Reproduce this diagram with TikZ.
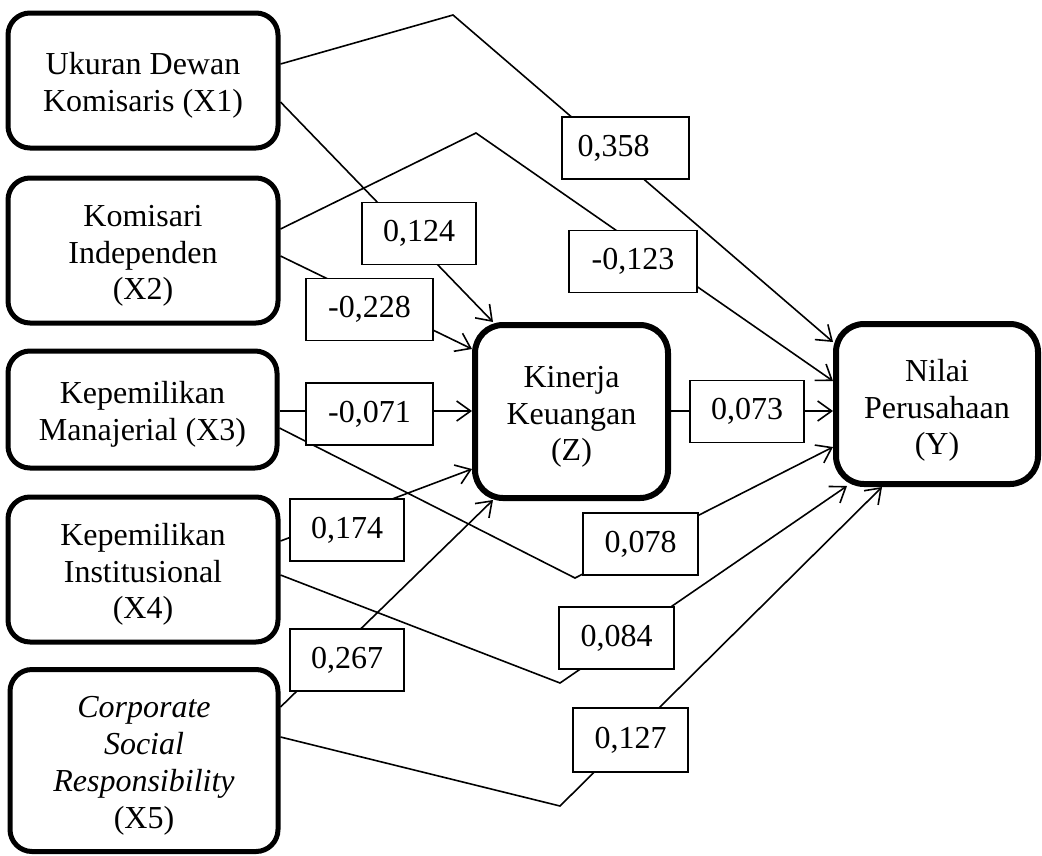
\documentclass[tikz,border=0pt]{standalone}
\usepackage{fontspec}
\setmainfont{Liberation Serif}
\usetikzlibrary{arrows.meta}
\newcommand{\topstrut}[1][32pt]{\rule{0pt}{#1}}
\begin{document}
\begin{tikzpicture}[x=1pt,y=-1pt,
  txt/.style={font=\fontsize{32}{36.8}\selectfont},
  var/.style={txt, draw, line width=5pt, rounded corners=22pt, align=center, inner sep=0pt},
  big/.style={line width=6pt, rounded corners=28pt},
  coef/.style={txt, draw, line width=1.8pt, fill=white, inner sep=0pt, minimum height=62pt},
  conn/.style={line width=1.6pt},
  arr/.style={conn, -{Straight Barb[length=14pt,width=20pt,line width=1.6pt]}}
]
\useasboundingbox (0,0) rectangle (1042,855);
\fill[white] (0,0) rectangle (1042,855);

% variable boxes
\node[var, minimum width=270pt, minimum height=135pt] (X1) at (143,80.5) {\topstrut Ukuran Dewan\\Komisaris (X1)};
\node[var, minimum width=270pt, minimum height=145pt] (X2) at (143,250.5) {\topstrut Komisari\\Independen\\(X2)};
\node[var, minimum width=269pt, minimum height=117pt] (X3) at (142.5,409.5) {\topstrut Kepemilikan\\Manajerial (X3)};
\node[var, minimum width=270pt, minimum height=145pt] (X4) at (143,569.5) {\topstrut Kepemilikan\\Institusional\\(X4)};
\node[var, minimum width=268pt, minimum height=182pt] (X5) at (144,760.5) {\topstrut\textit{Corporate}\\\textit{Social}\\\textit{Responsibility}\\(X5)};
\node[var, big, minimum width=193pt, minimum height=173pt] (Z) at (571.5,411.5) {\topstrut Kinerja\\Keuangan\\(Z)};
\node[var, big, minimum width=202pt, minimum height=160pt] (Y) at (937,404) {\topstrut[35pt]Nilai\\Perusahaan\\(Y)};

% bend points
\coordinate (b1) at (453,15);
\coordinate (b3) at (476,133);
\coordinate (b7) at (575,578);
\coordinate (b9) at (560,683);
\coordinate (b11) at (560,806);

% connectors
\draw[arr] (X1.east |- 0,64) -- (b1) -- (Y.west |- 0,342);
\draw[arr] (X1.east |- 0,102) -- (493,322);
\draw[arr] (X2.east |- 0,229) -- (b3) -- (Y.west |- 0,381);
\draw[arr] (X2.east |- 0,256) -- (Z.west |- 0,349);
\draw[arr] (X3.east |- 0,411) -- (Z.west |- 0,411);
\draw[arr] (Z.east |- 0,411) -- (Y.west |- 0,411);
\draw[arr] (X3.east |- 0,428) -- (b7) -- (Y.west |- 0,447);
\draw[arr] (X4.east |- 0,541) -- (Z.west |- 0,469);
\draw[arr] (X4.east |- 0,575) -- (b9) -- (847,486);
\draw[arr] (X5.east |- 0,707) -- (493,500);
\draw[arr] (X5.east |- 0,737) -- (b11) -- (882,487);

% coefficient labels
\node[coef, minimum width=114pt] (c124) at (419,233.5) {0,124};
\node[coef, minimum width=127pt] (c228) at (369.5,309.5) {-0,228};
\node[coef, minimum width=127pt] (c071) at (369.5,414) {-0,071};
\node[coef, minimum width=127pt, text width=112pt, align=left] (c358) at (625.5,148) {\hspace*{8pt}0,358};
\node[coef, minimum width=128pt] (c123) at (633,261.5) {-0,123};
\node[coef, minimum width=114pt] (c073) at (747,411.5) {0,073};
\node[coef, minimum width=114pt] (c174) at (347,530) {0,174};
\node[coef, minimum width=114pt] (c267) at (347,660) {0,267};
\node[coef, minimum width=115pt] (c078) at (640.5,544) {0,078};
\node[coef, minimum width=115pt] (c084) at (616.5,638) {0,084};
\node[coef, minimum width=115pt, minimum height=64pt] (c127) at (630.5,740) {0,127};
\end{tikzpicture}
\end{document}
